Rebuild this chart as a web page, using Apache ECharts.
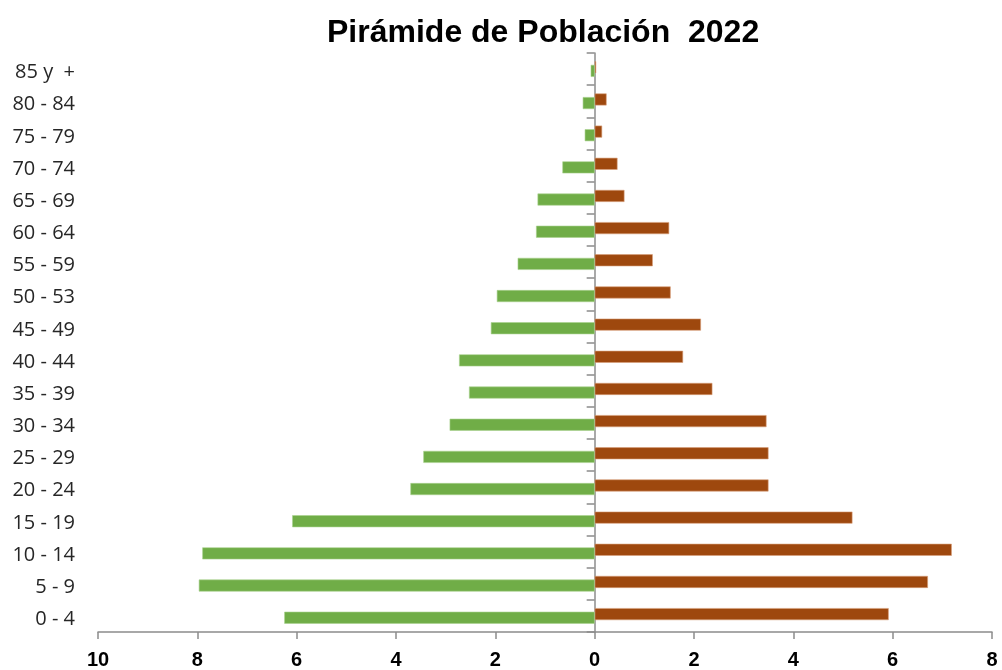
<!DOCTYPE html>
<html>
<head>
<meta charset="utf-8">
<script src="https://cdn.jsdelivr.net/npm/echarts@6/dist/echarts.min.js"></script>
<style>html,body{margin:0;padding:0;background:#fff}#c{width:1002px;height:670px}</style>
</head>
<body>
<div id="c"></div>
<script>
const title = 'Pirámide de Población  2022';
const categories = ['0 - 4','5 - 9','10 - 14','15 - 19','20 - 24','25 - 29','30 - 34','35 - 39','40 - 44','45 - 49','50 - 53','55 - 59','60 - 64','65 - 69','70 - 74','75 - 79','80 - 84','85 y  +'];
const leftValues = [6.25, 7.97, 7.90, 6.09, 3.71, 3.45, 2.92, 2.53, 2.73, 2.09, 1.97, 1.55, 1.18, 1.15, 0.65, 0.20, 0.24, 0.08];
const rightValues = [5.92, 6.71, 7.19, 5.19, 3.50, 3.50, 3.46, 2.37, 1.78, 2.14, 1.53, 1.17, 1.50, 0.60, 0.46, 0.15, 0.24, 0.03];
const xMin = -10, xMax = 8, xInterval = 2;

const chart = echarts.init(document.getElementById('c'), null, {renderer:'canvas'});
chart.setOption({
  animation: false,
  backgroundColor: '#fff',
  title: {
    text: title, left: 322, top: 12,
    textStyle: {fontFamily: 'Liberation Sans, Arial', fontWeight: 'bold', fontSize: 32, color: '#000'}
  },
  grid: {left: 98, right: 10, top: 53, bottom: 36, containLabel: false},
  xAxis: {
    type: 'value', min: xMin, max: xMax, interval: xInterval,
    splitLine: {show: false},
    axisLine: {show: true, onZero: false, lineStyle: {color: '#8c8c8c', width: 1.5}},
    axisTick: {show: true, length: 7, lineStyle: {color: '#8c8c8c', width: 1.5}},
    axisLabel: {formatter: v => Math.abs(v), fontFamily: 'Liberation Sans, Arial', fontWeight: 'bold', fontSize: 20, color: '#000', margin: 18}
  },
  yAxis: [
    {
      type: 'category', data: categories, position: 'left',
      axisLine: {show: true, onZero: true, lineStyle: {color: '#8c8c8c', width: 1.5}},
      axisTick: {show: true, length: 8, lineStyle: {color: '#8c8c8c', width: 1.5}},
      axisLabel: {show: false}
    },
    {
      type: 'category', data: categories, position: 'left',
      axisLine: {show: false, onZero: false}, axisTick: {show: false},
      axisLabel: {
        show: true, margin: 23,
        formatter: v => '{a|' + v + '}',
        rich: {a: {fontFamily: 'Open Sans', fontSize: 20, color: '#262626', padding: [7, 0, 0, 0]}}
      }
    }
  ],
  series: [
    {
      name: 'Mujeres', type: 'bar', data: rightValues, barWidth: 12, barGap: '-70%',
      itemStyle: {color: '#9E480E', borderColor: '#d9a07a', borderWidth: 0.6}
    },
    {
      name: 'Hombres', type: 'bar', data: leftValues.map(v => -v), barWidth: 12,
      itemStyle: {color: '#70AD47', borderColor: '#a9d18e', borderWidth: 0.6}
    }
  ]
});
</script>
</body>
</html>
